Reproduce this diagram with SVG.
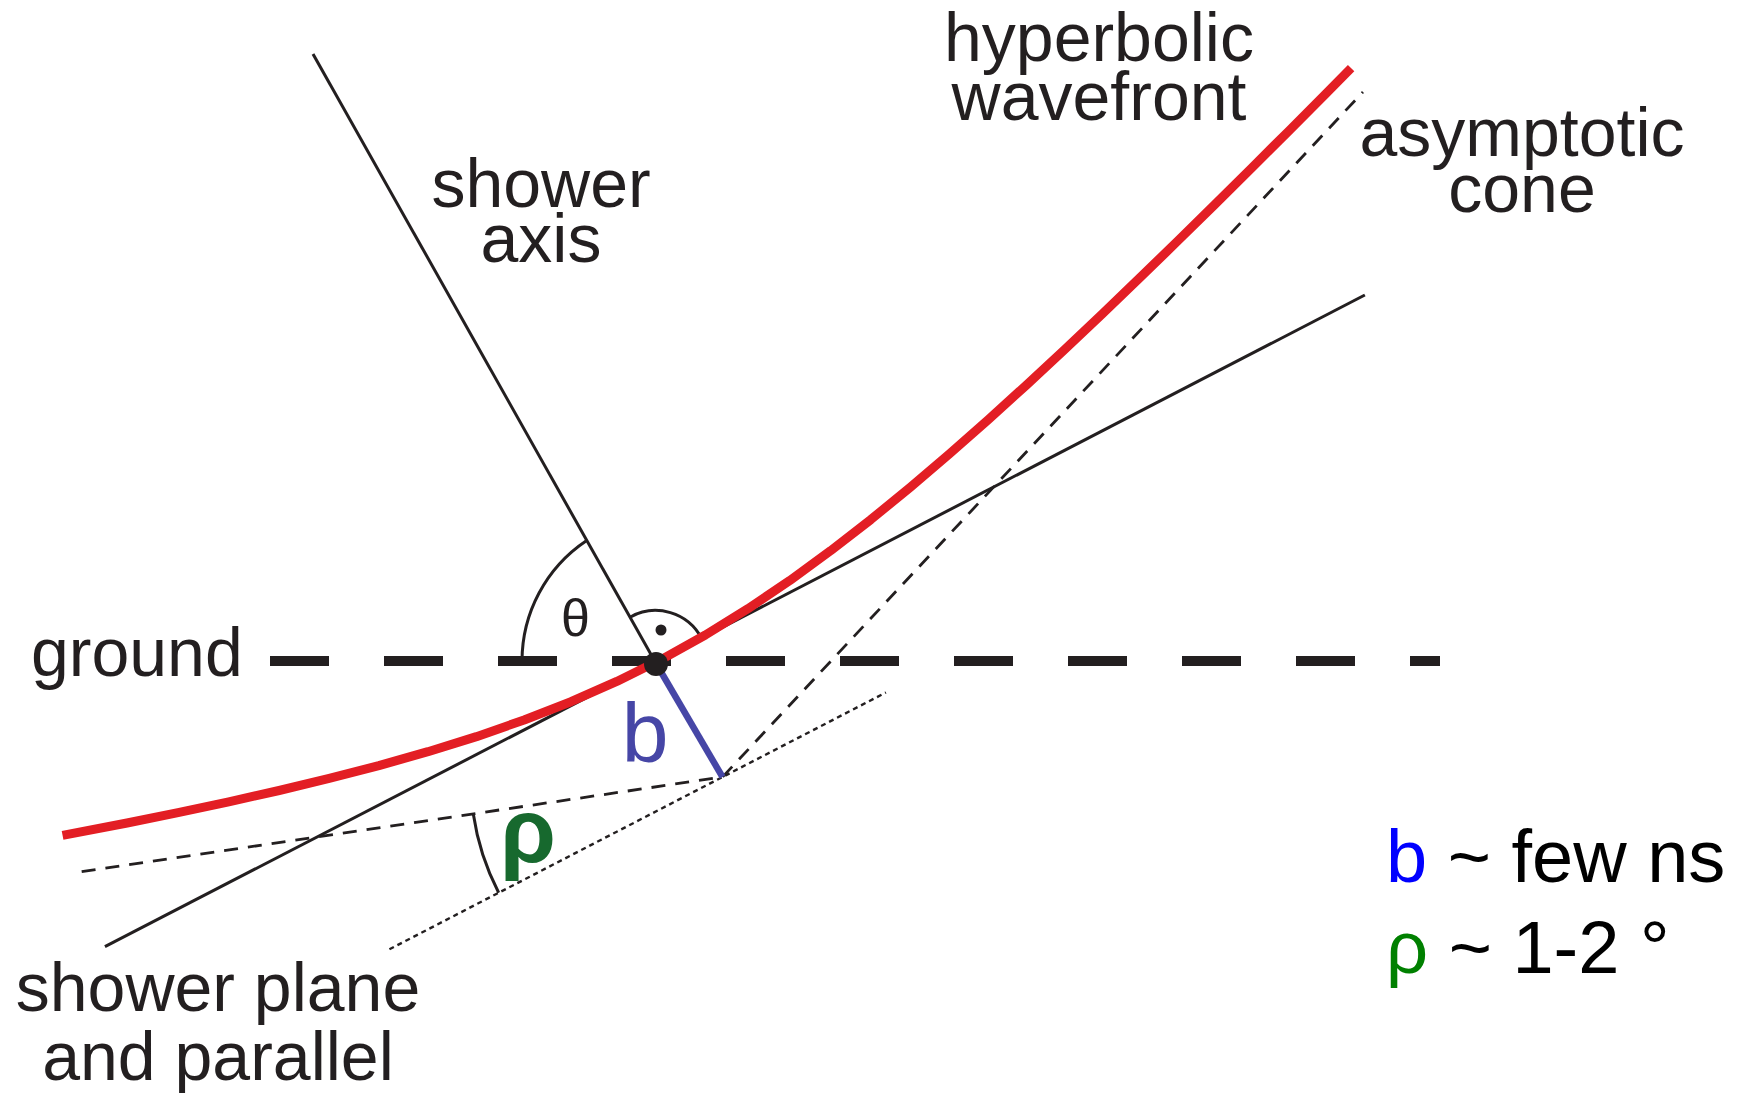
<svg xmlns="http://www.w3.org/2000/svg" width="1746" height="1093" viewBox="0 0 1746 1093">
<style>
.lbl{font-family:"Liberation Sans",Arial,sans-serif;font-size:68px;fill:#231f20}
.ln{fill:none;stroke:#231f20;stroke-width:3}
.dash{fill:none;stroke:#231f20;stroke-width:2.8;stroke-dasharray:14 10}
.dot{fill:none;stroke:#231f20;stroke-width:2.4;stroke-dasharray:5 4}
</style>
<rect width="1746" height="1093" fill="#ffffff"/>
<g id="connectors">
  <g id="frame" transform="translate(722.5,777) rotate(-27.35)">
    <line id="shower-plane" class="ln" x1="-626.5" y1="-133" x2="792" y2="-133"/>
    <line id="parallel" class="dot" x1="-375" y1="0" x2="184" y2="0"/>
    <path id="asymptote" class="dash" d="M -612.7 -210.3 L 0 0 L 883.6 -314.2"/>
    <path id="rho-arc" class="ln" d="M -238.3 -81.8 A 252 252 0 0 0 -252 0"/>
  </g>
  <line id="shower-axis" class="ln" x1="313" y1="54" x2="655.5" y2="662.5"/>
  <path id="theta-arc" class="ln" d="M 522 661 A 145 145 0 0 1 586 541"/>
  <path id="right-angle" class="ln" d="M 630 617.2 A 52 52 0 0 1 701.7 638.6"/>
  <circle cx="661" cy="630" r="5.5" fill="#231f20"/>
  <line id="ground" x1="270" y1="661" x2="1440" y2="661" stroke="#231f20" stroke-width="10" stroke-dasharray="59 55"/>
  <g transform="translate(722.5,777) rotate(-27.35)">
    <path id="wavefront" fill="none" stroke="#e31e24" stroke-width="9" stroke-linejoin="round" d="M -613 -251.3 L -550 -232.7 L -500 -218.5 L -450 -204.8 L -400 -191.7 L -350 -179.4 L -300 -168 L -250 -157.8 L -200 -148.9 L -150 -141.8 L -100 -136.5 L -50 -133.4 L 0 -132.5 L 50 -134 L 100 -137.8 L 150 -143.6 L 200 -151.3 L 250 -160.5 L 300 -171.1 L 350 -182.7 L 400 -195.3 L 450 -208.5 L 500 -222.4 L 550 -236.8 L 600 -251.6 L 650 -266.8 L 700 -282.2 L 750 -297.9 L 800 -313.7 L 850 -329.8 L 884 -340.8"/>
  </g>
  <line id="b-line" x1="655.5" y1="662.5" x2="722.5" y2="777" stroke="#4646a6" stroke-width="6.5"/>
  <circle id="core" cx="656" cy="664" r="12" fill="#231f20"/>
</g>
<g id="labels">
  <text id="t-hyper" class="lbl" text-anchor="middle"><tspan x="1099" y="61">hyperbolic</tspan><tspan x="1099" y="120">wavefront</tspan></text>
  <text id="t-asym" class="lbl" text-anchor="middle"><tspan x="1522" y="156">asymptotic</tspan><tspan x="1522" y="212">cone</tspan></text>
  <text id="t-axis" class="lbl" text-anchor="middle"><tspan x="541" y="207">shower</tspan><tspan x="541" y="262">axis</tspan></text>
  <text id="t-ground" class="lbl" x="31" y="676" font-size="69">ground</text>
  <text id="t-plane" class="lbl" text-anchor="middle" font-size="69"><tspan x="218" y="1011">shower plane</tspan><tspan x="218" y="1080">and parallel</tspan></text>
  <text id="t-theta" x="575.5" y="636" text-anchor="middle" font-family="Liberation Sans,Arial,sans-serif" font-size="52" fill="#231f20">θ</text>
  <text id="t-b" x="645" y="762" text-anchor="middle" font-family="Liberation Sans,Arial,sans-serif" font-size="84" fill="#4646a6">b</text>
  <text id="t-rho" x="528" y="862" text-anchor="middle" font-family="Liberation Sans,Arial,sans-serif" font-size="90" font-weight="bold" fill="#17692e">ρ</text>
  <text id="legend1" x="1386" y="882" font-family="Liberation Sans,Arial,sans-serif" font-size="74" fill="#000000"><tspan fill="#0000ff">b</tspan> ~ few ns</text>
  <text id="legend2" x="1386" y="973" font-family="Liberation Sans,Arial,sans-serif" font-size="74" fill="#000000"><tspan fill="#008000">ρ</tspan> ~ 1-2 °</text>
</g>
</svg>
